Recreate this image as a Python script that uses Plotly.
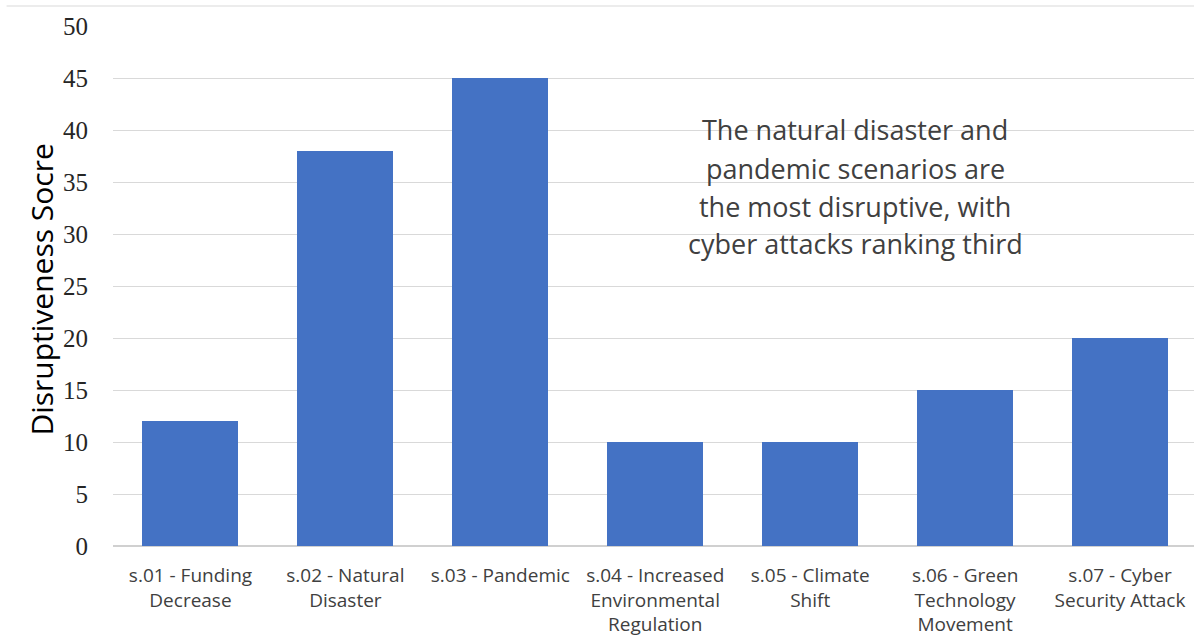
import plotly.graph_objects as go

categories = [
    "s.01 - Funding<br>Decrease",
    "s.02 - Natural<br>Disaster",
    "s.03 - Pandemic",
    "s.04 - Increased<br>Environmental<br>Regulation",
    "s.05 - Climate<br>Shift",
    "s.06 - Green<br>Technology<br>Movement",
    "s.07 - Cyber<br>Security Attack",
]
scores = [12, 38, 45, 10, 10, 15, 20]
y_ticks = [0, 5, 10, 15, 20, 25, 30, 35, 40, 45, 50]
note_lines = [
    "The natural disaster and",
    "pandemic scenarios are",
    "the most disruptive, with",
    "cyber attacks ranking third",
]
y_title = "Disruptiveness Socre"

SANS = "Open Sans"
SERIF = "Liberation Serif, Times New Roman, serif"
TEXT = "#404040"

fig = go.Figure(
    go.Bar(
        x=list(range(len(categories))),
        y=scores,
        width=0.62,
        marker=dict(color="#4472C4", line=dict(width=0)),
        hoverinfo="y",
    )
)

W, H = 1194, 641
ml, mr, mt, mb = 112.5, 0, 26, 95
plot_w = W - ml - mr
plot_h = H - mt - mb
cat_px = 155.0

fig.update_layout(
    width=W,
    height=H,
    margin=dict(l=ml, r=mr, t=mt, b=mb, pad=0),
    paper_bgcolor="white",
    plot_bgcolor="white",
    showlegend=False,
    bargap=0,
    xaxis=dict(
        range=[-0.5, -0.5 + plot_w / cat_px],
        tickmode="array",
        tickvals=list(range(len(categories))),
        ticktext=categories,
        tickangle=0,
        showgrid=False,
        zeroline=False,
        showline=False,
        ticks="",
        ticklabelstandoff=16,
        tickfont=dict(family=SANS, size=19, color=TEXT),
        fixedrange=True,
    ),
    yaxis=dict(
        range=[0, 50],
        tickmode="array",
        tickvals=y_ticks,
        showgrid=True,
        gridcolor="#d9d9d9",
        gridwidth=1,
        zeroline=True,
        zerolinecolor="#d0d0d0",
        zerolinewidth=1.5,
        showline=False,
        ticks="",
        ticklabelstandoff=24,
        tickfont=dict(family=SERIF, size=25, color="#262626"),
        fixedrange=True,
    ),
)

# Thin frame line across the top of the chart area
fig.add_shape(
    type="line",
    xref="paper", yref="paper",
    x0=(6 - ml) / plot_w, x1=1.0,
    y0=(H - mb - 6) / plot_h, y1=(H - mb - 6) / plot_h,
    line=dict(color="#d9d9d9", width=1),
)

# Vertical axis title
fig.add_annotation(
    text=y_title,
    xref="paper", yref="paper",
    x=(40 - ml) / plot_w, y=(H - mb - 290) / plot_h,
    showarrow=False, textangle=-90,
    font=dict(family=SANS, size=30, color="black"),
    xanchor="center", yanchor="middle",
)

# Callout text, one line per annotation for wider line spacing
for i, line in enumerate(note_lines):
    fig.add_annotation(
        text=line,
        xref="paper", yref="paper",
        x=(855 - ml) / plot_w, y=(H - mb - (130 + 38 * i)) / plot_h,
        showarrow=False,
        font=dict(family=SANS, size=27, color=TEXT),
        xanchor="center", yanchor="middle",
    )

fig.write_html("out.html")
